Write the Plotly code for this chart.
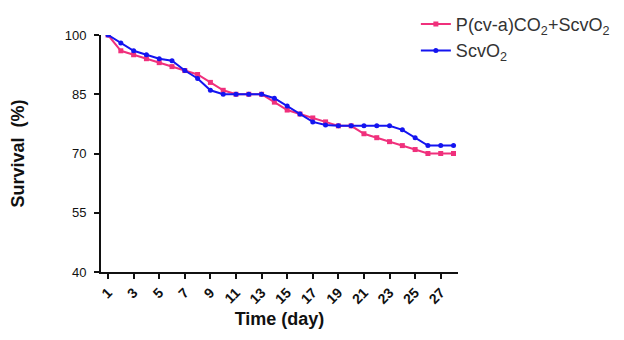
import plotly.graph_objects as go

days = list(range(1, 29))
combo = [100, 96, 95, 94, 93, 92, 91, 90, 88, 86, 85, 85, 85, 83, 81, 80, 79, 78,
         77, 77, 75, 74, 73, 72, 71, 70, 70, 70]
scvo2 = [100, 98, 96, 95, 94, 93.5, 91, 89, 86, 85, 85, 85, 85, 84, 82, 80, 78, 77.2,
         77, 77, 77, 77, 77, 76, 74, 72, 72, 72]
x_ticks = list(range(1, 28, 2))
y_ticks = [40, 55, 70, 85, 100]

PINK = "#F0307C"
BLUE = "#1414F0"
FONT = "Arial, Liberation Sans, sans-serif"

fig = go.Figure()
fig.add_trace(go.Scatter(x=days, y=combo, mode="lines+markers",
                         name="P(cv-a)CO<sub>2</sub>+ScvO<sub>2</sub>",
                         line=dict(color=PINK, width=2),
                         marker=dict(symbol="square", size=5, color=PINK)))
fig.add_trace(go.Scatter(x=days, y=scvo2, mode="lines+markers",
                         name="ScvO<sub>2</sub>",
                         line=dict(color=BLUE, width=2),
                         marker=dict(symbol="circle", size=5, color=BLUE)))

fig.update_layout(
    width=616, height=332,
    margin=dict(l=93, r=166, t=27, b=68, autoexpand=False),
    paper_bgcolor="white", plot_bgcolor="white",
    font=dict(family=FONT, color="#222"),
    showlegend=True,
    legend=dict(x=0.882, y=1.123, xanchor="left", yanchor="top",
                font=dict(size=18, color="#333"), bgcolor="rgba(0,0,0,0)",
                tracegroupgap=0, itemwidth=30),
    xaxis=dict(range=[0.45, 28.35], tickvals=x_ticks, ticktext=[f"<b>{v}</b>" for v in x_ticks],
               tickangle=-45, ticks="outside", ticklen=5, tickwidth=2, tickcolor="#111",
               showline=True, linecolor="#111", linewidth=2, showgrid=False, zeroline=False,
               tickfont=dict(size=14, color="#111", family=FONT),
               title=dict(text="<b>Time (day)</b>", font=dict(size=18, color="#111"), standoff=7)),
    yaxis=dict(range=[40, 100], tickvals=y_ticks, ticks="outside", ticklen=5, tickwidth=2,
               tickcolor="#111", showline=True, linecolor="#111", linewidth=2,
               showgrid=False, zeroline=False, ticklabelstandoff=5,
               tickfont=dict(size=13, color="#111", family=FONT),
               tickprefix="<b>", ticksuffix="</b>",
               title=dict(text="<b>Survival  (%)</b>", font=dict(size=18, color="#111"), standoff=41)),
)

fig.write_html("out.html")
